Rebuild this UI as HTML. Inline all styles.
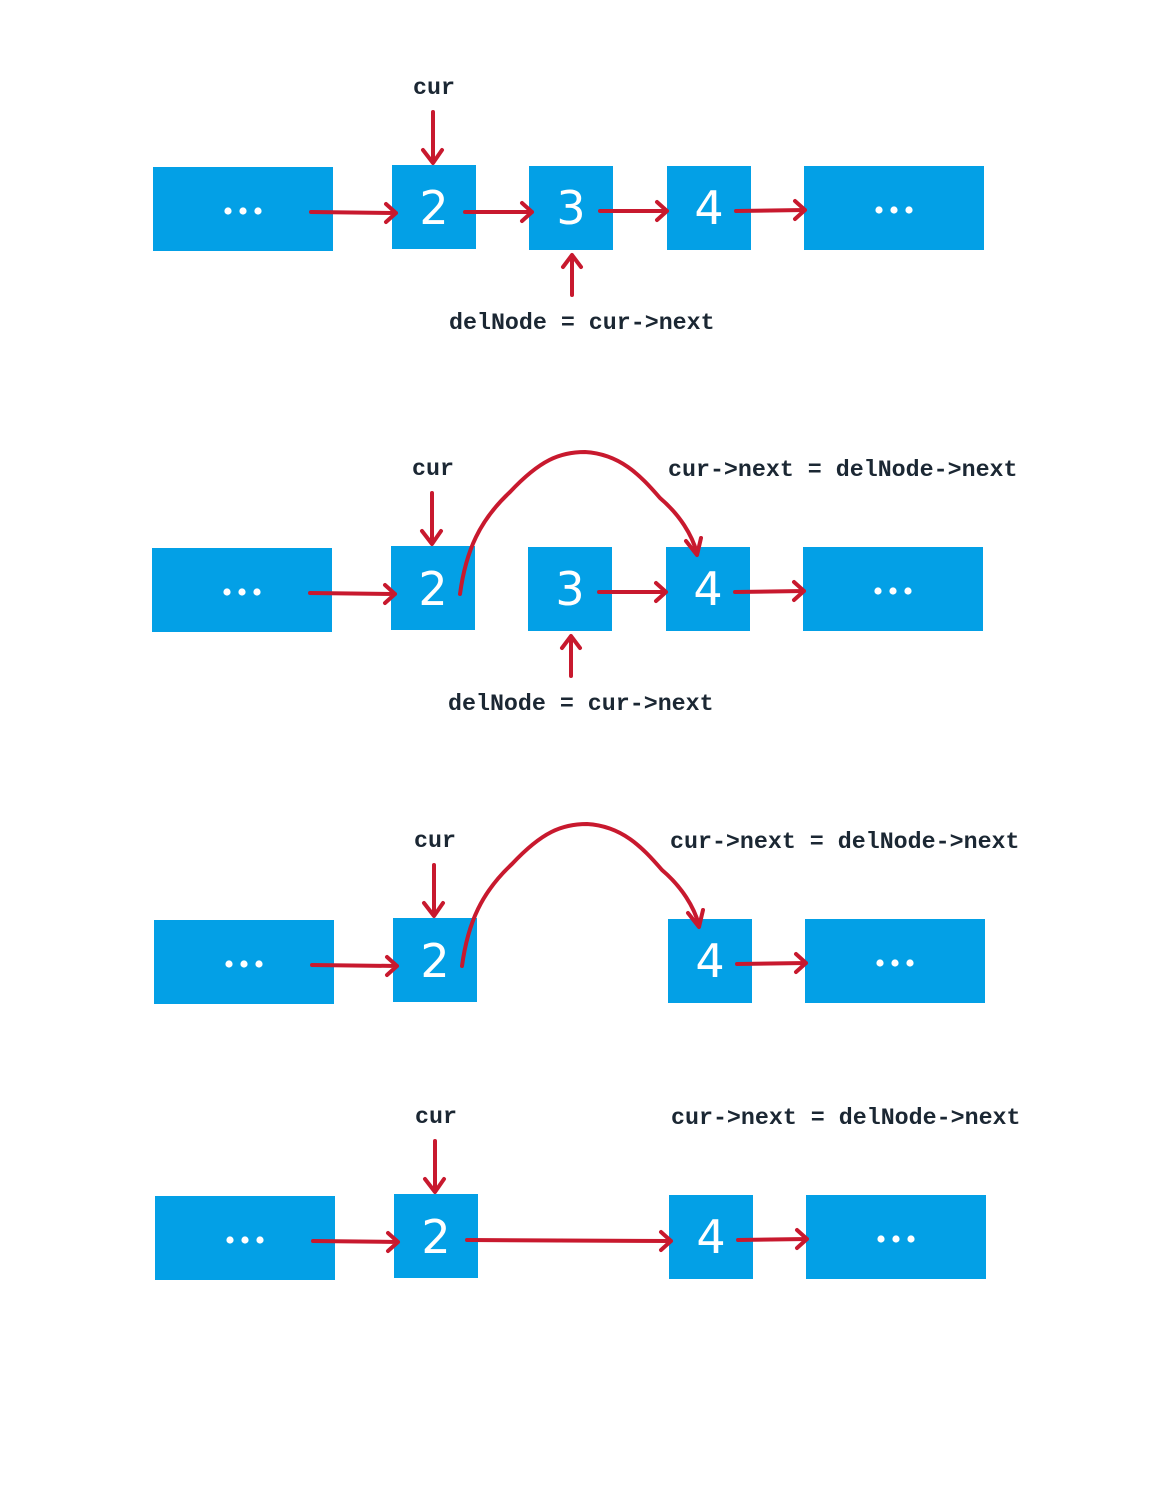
<!DOCTYPE html>
<html><head><meta charset="utf-8"><style>
html,body{margin:0;padding:0;background:#fff;}
svg{display:block;}
.box{fill:#03a0e6;}
.dot{fill:#fff;}
.num{fill:#fff;font-family:"DejaVu Sans","Liberation Sans",sans-serif;font-size:46px;text-anchor:middle;}
.lbl{fill:#1b2733;font-family:"Liberation Mono","DejaVu Sans Mono",monospace;font-size:23.3px;font-weight:bold;}
.arr{stroke:#c8192e;stroke-width:4;fill:none;stroke-linecap:round;stroke-linejoin:round;}
</style></head><body>
<svg width="1158" height="1488" viewBox="0 0 1158 1488">
<defs>
<g id="dots"><circle class="dot" cx="-15" cy="0" r="3.6"/><circle class="dot" cx="0" cy="0" r="3.6"/><circle class="dot" cx="15" cy="0" r="3.6"/></g>
</defs>
<g>
  <rect class="box" x="153" y="167" width="180" height="84"/>
  <use href="#dots" x="243" y="211"/>
  <rect class="box" x="392" y="165" width="84" height="84"/>
  <text class="num" x="434" y="224">2</text>
  <rect class="box" x="529" y="166" width="84" height="84"/>
  <text class="num" x="571" y="224">3</text>
  <rect class="box" x="667" y="166" width="84" height="84"/>
  <text class="num" x="709" y="224">4</text>
  <rect class="box" x="804" y="166" width="180" height="84"/>
  <use href="#dots" x="894" y="210"/>
  <text class="lbl" x="434" y="94" text-anchor="middle">cur</text>
  <path class="arr" d="M433 112 L433 162 M423 150 L433 163 L442 150"/>
  <path class="arr" d="M572 295 L572 256 M563 267 L572 255 L581 267"/>
  <text class="lbl" x="449" y="329">delNode = cur-&gt;next</text>
  <path class="arr" d="M311 212 L396 213 M386 204 L396 213 L386 222"/>
  <path class="arr" d="M465 212 L532 212 M522 203 L532 212 L522 221"/>
  <path class="arr" d="M600 211 L667 211 M657 202 L667 211 L657 220"/>
  <path class="arr" d="M736 211 L805 210 M795 201 L805 210 L795 219"/>
</g>
<g>
  <rect class="box" x="152" y="548" width="180" height="84"/>
  <use href="#dots" x="242" y="592"/>
  <rect class="box" x="391" y="546" width="84" height="84"/>
  <text class="num" x="433" y="605">2</text>
  <rect class="box" x="528" y="547" width="84" height="84"/>
  <text class="num" x="570" y="605">3</text>
  <rect class="box" x="666" y="547" width="84" height="84"/>
  <text class="num" x="708" y="605">4</text>
  <rect class="box" x="803" y="547" width="180" height="84"/>
  <use href="#dots" x="893" y="591"/>
  <text class="lbl" x="433" y="475" text-anchor="middle">cur</text>
  <path class="arr" d="M432 493 L432 543 M422 531 L432 544 L441 531"/>
  <text class="lbl" x="668" y="476">cur-&gt;next = delNode-&gt;next</text>
  <path class="arr" d="M571 676 L571 637 M562 648 L571 636 L580 648"/>
  <text class="lbl" x="448" y="710">delNode = cur-&gt;next</text>
  <path class="arr" d="M460 594 C466 550 480 520 510 492 C540 460 560 452 585 452 C620 454 640 475 660 498 C680 515 692 535 697 553 M686 541 L697 555 L701 538"/>
  <path class="arr" d="M310 593 L395 594 M385 585 L395 594 L385 603"/>
  <path class="arr" d="M599 592 L666 592 M656 583 L666 592 L656 601"/>
  <path class="arr" d="M735 592 L804 591 M794 582 L804 591 L794 600"/>
</g>
<g>
  <rect class="box" x="154" y="920" width="180" height="84"/>
  <use href="#dots" x="244" y="964"/>
  <rect class="box" x="393" y="918" width="84" height="84"/>
  <text class="num" x="435" y="977">2</text>
  <rect class="box" x="668" y="919" width="84" height="84"/>
  <text class="num" x="710" y="977">4</text>
  <rect class="box" x="805" y="919" width="180" height="84"/>
  <use href="#dots" x="895" y="963"/>
  <text class="lbl" x="435" y="847" text-anchor="middle">cur</text>
  <path class="arr" d="M434 865 L434 915 M424 903 L434 916 L443 903"/>
  <text class="lbl" x="670" y="848">cur-&gt;next = delNode-&gt;next</text>
  <path class="arr" d="M462 966 C468 922 482 892 512 864 C542 832 562 824 587 824 C622 826 642 847 662 870 C682 887 694 907 699 925 M688 913 L699 927 L703 910"/>
  <path class="arr" d="M312 965 L397 966 M387 957 L397 966 L387 975"/>
  <path class="arr" d="M737 964 L806 963 M796 954 L806 963 L796 972"/>
</g>
<g>
  <rect class="box" x="155" y="1196" width="180" height="84"/>
  <use href="#dots" x="245" y="1240"/>
  <rect class="box" x="394" y="1194" width="84" height="84"/>
  <text class="num" x="436" y="1253">2</text>
  <rect class="box" x="669" y="1195" width="84" height="84"/>
  <text class="num" x="711" y="1253">4</text>
  <rect class="box" x="806" y="1195" width="180" height="84"/>
  <use href="#dots" x="896" y="1239"/>
  <text class="lbl" x="436" y="1123" text-anchor="middle">cur</text>
  <path class="arr" d="M435 1141 L435 1191 M425 1179 L435 1192 L444 1179"/>
  <text class="lbl" x="671" y="1124">cur-&gt;next = delNode-&gt;next</text>
  <path class="arr" d="M313 1241 L398 1242 M388 1233 L398 1242 L388 1251"/>
  <path class="arr" d="M467 1240 L671 1241 M661 1232 L671 1241 L661 1250"/>
  <path class="arr" d="M738 1240 L807 1239 M797 1230 L807 1239 L797 1248"/>
</g>
</svg>
</body></html>
